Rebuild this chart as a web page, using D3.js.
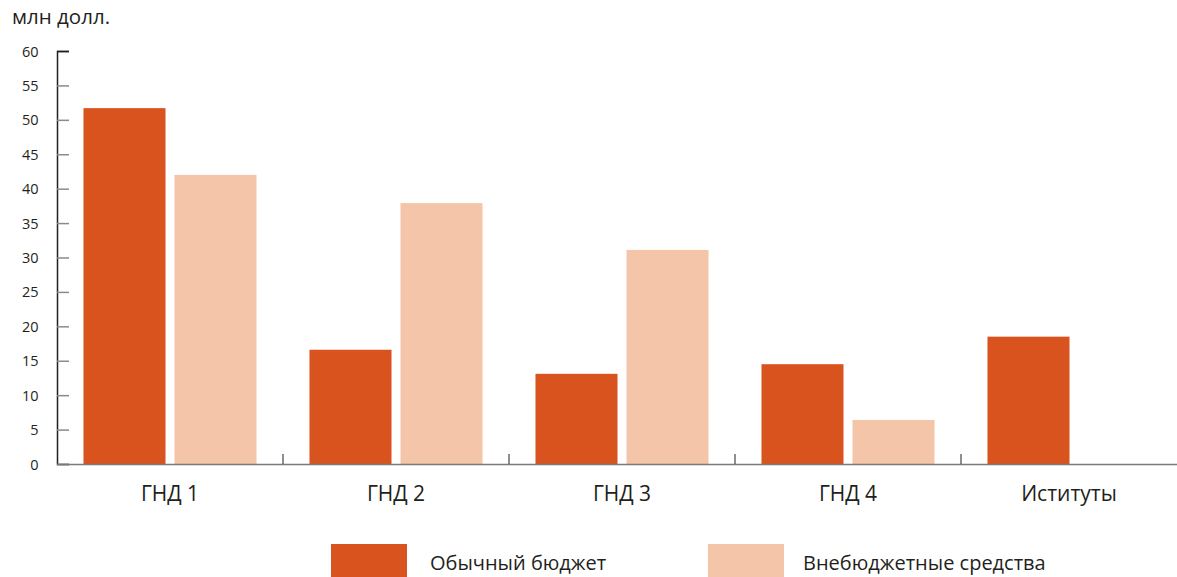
<!DOCTYPE html>
<html><head><meta charset="utf-8">
<script src="https://cdn.jsdelivr.net/npm/d3@7/dist/d3.min.js"></script>
<style>
body{margin:0;background:#fff;}
svg{display:block;font-family:"Open Sans",sans-serif;}
</style></head>
<body><svg id="c" width="1177" height="577"></svg>
<script>
const categories = ["ГНД 1","ГНД 2","ГНД 3","ГНД 4","Иституты"];
const seriesNames = ["Обычный бюджет","Внебюджетные средства"];
const regularBudget = [51.7, 16.6, 13.1, 14.5, 18.5];
const extraBudget = [42.0, 37.9, 31.1, 6.4, 0];
const yTicks = [0,5,10,15,20,25,30,35,40,45,50,55,60];
const colors = ["#D9531E","#F4C5A8"];

const svg = d3.select("#c");
const x0 = d3.scaleBand().domain(categories).range([57,1187]).paddingInner(0).paddingOuter(0);
const x1 = d3.scaleBand().domain(seriesNames).range([0,x0.bandwidth()]).paddingInner(9/91).paddingOuter(0.291);
const y = d3.scaleLinear().domain([0,60]).range([464,51]);
const color = d3.scaleOrdinal().domain(seriesNames).range(colors);

const data = categories.map((c,i)=>({cat:c, vals:[regularBudget[i], extraBudget[i]]}));

// bars
const g = svg.append("g");
data.forEach(d=>{
  seriesNames.forEach((s,j)=>{
    const v = d.vals[j];
    if(v>0){
      g.append("rect")
        .attr("x", x0(d.cat)+x1(s))
        .attr("y", y(v))
        .attr("width", x1.bandwidth())
        .attr("height", y(0)-y(v))
        .attr("fill", color(s));
    }
  });
});

// y axis
const yAxis = d3.axisRight(y).tickValues(yTicks).tickSize(12).tickFormat("");
const ya = svg.append("g").attr("transform","translate(57,0)").call(yAxis);
ya.select(".domain").attr("stroke","#231f20").attr("stroke-width",1.5);
ya.selectAll(".tick line").attr("stroke", d=> d===60 ? "#231f20" : "#8a8a8a").attr("stroke-width",1.5);
svg.append("g").selectAll("text").data(yTicks).join("text")
  .attr("x",38.5).attr("y",d=>y(d)+5.5)
  .attr("text-anchor","end").attr("font-size",14.5).attr("fill","#231f20")
  .text(d=>d);

// x axis line
svg.append("line").attr("x1",57).attr("x2",1177).attr("y1",464.5).attr("y2",464.5)
  .attr("stroke","#7a7a7a").attr("stroke-width",1.5);
// separators
svg.append("g").selectAll("line").data(categories.slice(1)).join("line")
  .attr("x1",d=>x0(d)).attr("x2",d=>x0(d)).attr("y1",454).attr("y2",464)
  .attr("stroke","#444").attr("stroke-width",1.2);

// category labels
svg.append("g").selectAll("text").data(categories).join("text")
  .attr("x",d=>x0(d)+x0.bandwidth()/2 - (d==="Иституты"?5:0))
  .attr("y",501).attr("text-anchor","middle").attr("font-size",21).attr("fill","#231f20")
  .text(d=>d);

// title
svg.append("text").attr("x",12).attr("y",24).attr("font-size",20.5).attr("fill","#231f20").text("млн долл.");

// legend
const legX = [331, 708];
const legTextX = [430, 803];
seriesNames.forEach((s,j)=>{
  svg.append("rect").attr("x",legX[j]).attr("y",544).attr("width",76).attr("height",34).attr("fill",color(s));
  svg.append("text").attr("x",legTextX[j]).attr("y",570).attr("font-size",20).attr("fill","#231f20").text(s);
});
</script></body></html>
